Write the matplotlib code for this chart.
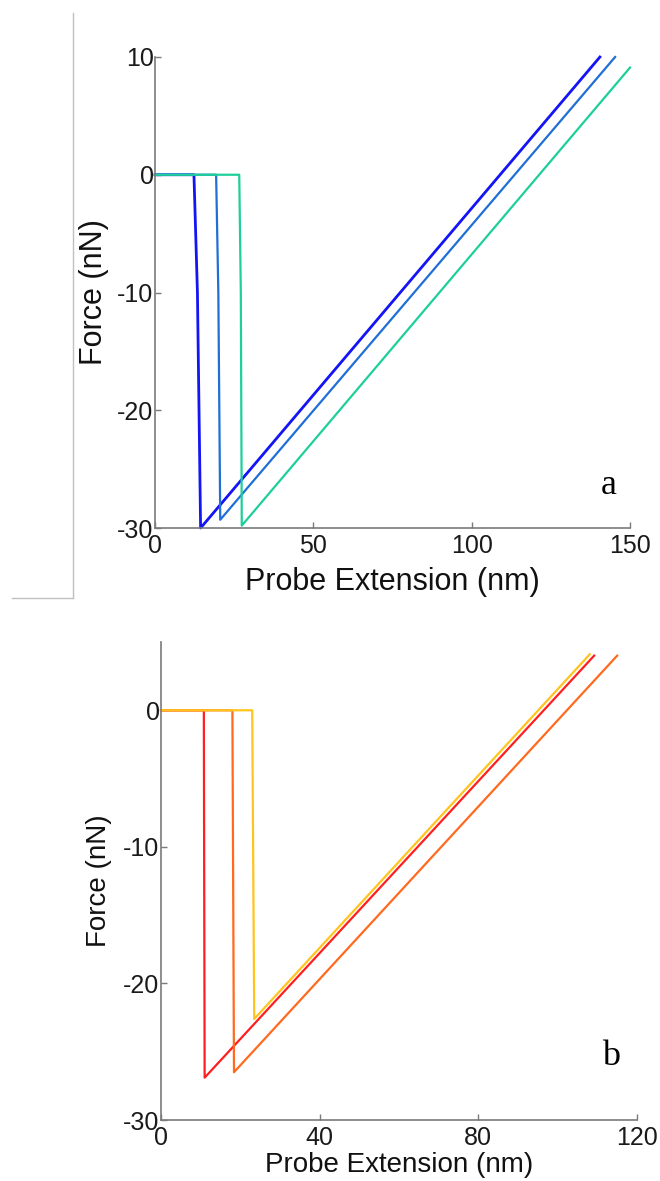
"""Force curves (probe extension vs force), two stacked panels."""

import matplotlib
matplotlib.use('Agg')
import matplotlib.pyplot as plt
from matplotlib.lines import Line2D

# Panel a: polyline vertices
a_x_ticks = [0, 50, 100, 150]
a_y_ticks = [-30, -20, -10, 0, 10]
a_blue_x = [0, 12.3, 13.4, 13.9, 14.4, 140.5]
a_blue_y = [0, 0, -10, -20, -30, 10]
a_mid_x = [0, 19.3, 20.0, 20.6, 145.3]
a_mid_y = [0, 0, -10, -29.3, 10]
a_green_x = [0, 26.6, 27.1, 27.4, 150.0]
a_green_y = [0, 0, -10, -29.8, 9.1]

# Panel b
b_x_ticks = [0, 40, 80, 120]
b_y_ticks = [-30, -20, -10, 0]
b_red_x = [0, 10.8, 11.0, 109.2]
b_red_y = [0, 0, -26.9, 4.0]
b_orange_x = [0, 18.0, 18.4, 115.0]
b_orange_y = [0, 0, -26.5, 4.0]
b_yellow_x = [0, 23.0, 23.5, 108.1]
b_yellow_y = [0, 0, -22.6, 4.1]

SPINE = '#7a7a7a'
plt.rcParams['font.family'] = ['Liberation Sans', 'DejaVu Sans']
plt.rcParams['axes.unicode_minus'] = False

fig = plt.figure(figsize=(6.6, 11.81), dpi=100)


def style_axes(ax, xticks, yticks, xlim, ylim, tick_fs, label_fs, ylab_x, xlab_y):
    ax.set_xlim(*xlim)
    ax.set_ylim(*ylim)
    ax.set_xticks(xticks)
    ax.set_yticks(yticks)
    for side in ['top', 'right']:
        ax.spines[side].set_visible(False)
    for side in ['left', 'bottom']:
        ax.spines[side].set_color(SPINE)
        ax.spines[side].set_linewidth(1.2)
    ax.tick_params(direction='in', length=4, width=1, color=SPINE,
                   labelsize=tick_fs, labelcolor='#1a1a1a')
    ax.tick_params(axis='y', pad=1)
    ax.tick_params(axis='x', pad=4)
    ax.set_xlabel('Probe Extension (nm)', fontsize=label_fs, color='#111111')
    ax.set_ylabel('Force (nN)', fontsize=label_fs, color='#111111')
    ax.xaxis.set_label_coords(0.5, xlab_y)
    ax.yaxis.set_label_coords(ylab_x, 0.5)


# panel a
ax1 = fig.add_axes([155 / 660, 1 - 528 / 1181, 475 / 660, 471 / 1181])
ax1.plot(a_blue_x, a_blue_y, color='#1414f5', lw=2.0, clip_on=False)
ax1.plot(a_mid_x, a_mid_y, color='#1f6fd6', lw=1.6, clip_on=False)
ax1.plot(a_green_x, a_green_y, color='#1fcf9a', lw=1.6, clip_on=False)
style_axes(ax1, a_x_ticks, a_y_ticks, (0, 150), (-30, 10), 18, 22, -0.097, -0.082)
ax1.text(0.955, 0.09, 'a', transform=ax1.transAxes, fontsize=26,
         family='Liberation Serif', ha='center', va='center')

# panel b
ax2 = fig.add_axes([161 / 660, 1 - 1120 / 1181, 476 / 660, 478 / 1181])
ax2.plot(b_red_x, b_red_y, color='#ff1f1f', lw=1.6, clip_on=False)
ax2.plot(b_orange_x, b_orange_y, color='#ff6a1f', lw=1.6, clip_on=False)
ax2.plot(b_yellow_x, b_yellow_y, color='#ffc41e', lw=1.6, clip_on=False)
style_axes(ax2, b_x_ticks, b_y_ticks, (0, 120), (-30, 5), 18, 20, -0.103, -0.066)
ax2.text(0.945, 0.133, 'b', transform=ax2.transAxes, fontsize=26,
         family='Liberation Serif', ha='center', va='center')

# light frame corner left of the top panel
fig.add_artist(Line2D([73 / 660, 73 / 660], [1 - 13 / 1181, 1 - 598 / 1181],
                      transform=fig.transFigure, color='#c0c0c0', lw=1))
fig.add_artist(Line2D([12 / 660, 73 / 660], [1 - 598 / 1181, 1 - 598 / 1181],
                      transform=fig.transFigure, color='#c0c0c0', lw=1))

fig.savefig('out.png', dpi=100)
